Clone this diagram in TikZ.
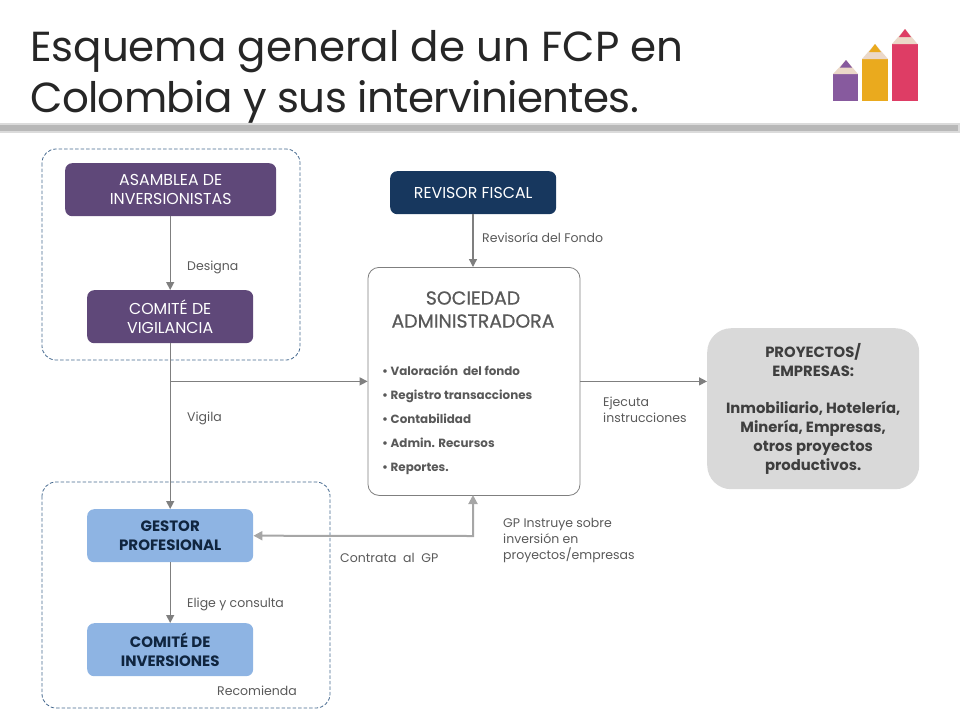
\documentclass[tikz,border=0pt]{standalone}
\usepackage{fontspec}
\setmainfont{Poppins}
\usetikzlibrary{arrows.meta,calc}
\definecolor{lbl}{HTML}{595959}
\definecolor{linec}{HTML}{7F7F7F}
\definecolor{purp}{HTML}{5F4879}
\definecolor{navy}{HTML}{17375E}
\definecolor{sky}{HTML}{8EB4E3}
\definecolor{skytx}{HTML}{10253F}
\definecolor{dashc}{HTML}{44688E}
\definecolor{greyb}{HTML}{D9D9D9}
\definecolor{pencilA}{HTML}{875A9E}
\definecolor{pencilB}{HTML}{EAAA1E}
\definecolor{pencilC}{HTML}{DE3D65}
\definecolor{pencilW}{HTML}{EBD8C8}
\tikzset{
  x=1pt,y=-1pt,
  box/.style={rectangle,rounded corners=7pt,align=center,inner sep=0pt,anchor=north west},
  purplebox/.style={box,fill=purp,text=white,font=\fontsize{15.8}{19}\selectfont},
  bluebox/.style={box,fill=sky,text=skytx,font=\fontsize{15}{19}\selectfont\bfseries},
  lab/.style={anchor=base west,align=left,inner sep=0pt,text=lbl,font=\fontsize{12.5}{16}\selectfont},
  conn/.style={draw=linec,line width=1.3pt,-{Triangle[length=8pt,width=8pt]}},
  conn2/.style={draw=black!35,line width=2pt,{Triangle[length=9pt,width=9pt]}-{Triangle[length=9pt,width=9pt]}},
  dashbox/.style={draw=dashc,dash pattern=on 3.5pt off 2pt,line width=.8pt,rounded corners=14pt},
  bul/.style={anchor=base west,inner sep=0pt,text=lbl,font=\fontsize{11.9}{13}\selectfont\bfseries},
  ttl/.style={anchor=base west,inner sep=0pt,text=black!85,font=\fontsize{42}{52}\selectfont},
}
\begin{document}
\begin{tikzpicture}
\useasboundingbox (0,0) rectangle (960,720);
\node[ttl] (t1) at (30,61) {Esquema general de un FCP en};
\node[ttl] (t2) at (30,112) {\addfontfeature{LetterSpace=-1.5}Colombia y sus intervinientes.};
\fill[black!14] (0,123) rectangle (960,133);
\fill[black!28] (0,124.5) rectangle (958,131);
% icon
\fill[pencilA] (833,74) rectangle (858,101);
\fill[pencilW] (833,74) -- (846,60) -- (858,74) -- cycle;
\fill[pencilA] (840,67.5) -- (846,60) -- (852,67.5) -- cycle;
\fill[pencilB] (862,59) rectangle (888,101);
\fill[pencilW] (862,59) -- (875,44) -- (888,59) -- cycle;
\fill[pencilB] (869,52) -- (875,44) -- (881,52) -- cycle;
\fill[pencilC] (892,44) rectangle (917.5,101);
\fill[pencilW] (892,44) -- (905,29) -- (917.5,44) -- cycle;
\fill[pencilC] (899,37) -- (905,29) -- (911,37) -- cycle;
% dashed
\draw[dashbox] (42,149) rectangle (300,360);
\draw[dashbox] (42,482) rectangle (330,708);
% nodes
\node[purplebox,minimum width=211pt,minimum height=53pt] (asamblea) at (65,163) {ASAMBLEA DE\\INVERSIONISTAS};
\node[purplebox,minimum width=166pt,minimum height=53pt] (vigilancia) at (87,290) {COMITÉ DE\\VIGILANCIA};
\node[box,fill=navy,text=white,font=\fontsize{15.8}{18}\selectfont,minimum width=166pt,minimum height=43pt] (revisor) at (390,171) {REVISOR FISCAL};
\node[box,draw=linec,line width=.8pt,fill=white,rounded corners=11pt,minimum width=212pt,minimum height=228pt] (sociedad) at (367.6,267) {};
\node[box,fill=greyb,rounded corners=24pt,minimum width=212pt,minimum height=161pt,text=lbl!70!black,font=\fontsize{14.8}{19}\selectfont\bfseries] (proyectos) at (707,328) {PROYECTOS/\\EMPRESAS:\\[18pt]Inmobiliario, Hotelería,\\Minería, Empresas,\\otros proyectos\\productivos.};
\node[bluebox,minimum width=166pt,minimum height=53pt] (gestor) at (87,509) {GESTOR\\PROFESIONAL};
\node[bluebox,minimum width=166pt,minimum height=53pt] (inversiones) at (87,623) {COMITÉ DE\\INVERSIONES};
% sociedad text
\node[align=center,inner sep=0pt,text=lbl,font=\fontsize{18.9}{23}\selectfont\addfontfeature{FakeBold=0.6}] (soctitle) at (473,309.5) {SOCIEDAD\\ADMINISTRADORA};
\node[bul] (b1) at (382,375) {• Valoración\ \ del fondo};
\node[bul] (b2) at (382,399) {• Registro transacciones};
\node[bul] (b3) at (382,423) {• Contabilidad};
\node[bul] (b4) at (382,447) {• Admin. Recursos};
\node[bul] (b5) at (382,471) {• Reportes.};
% connectors
\draw[conn] (asamblea.south -| vigilancia.north) -- (vigilancia.north);
\draw[conn] (vigilancia.south) -- (gestor.north);
\coordinate (branch) at (vigilancia.south |- sociedad.west);
\coordinate (soca) at (473,495);
\coordinate (socin) at (473,267);
\coordinate (elbow) at (473,536);
\draw[conn] (branch) -- (sociedad.west);
\draw[conn] (revisor.south -| socin) -- (socin);
\draw[conn] (sociedad.east) -- (proyectos.west |- sociedad.east);
\draw[conn] (gestor.south) -- (inversiones.north);
\draw[conn2] (gestor.east) -- (elbow) -- (soca);
% labels
\node[lab] (l1) at (187,270) {Designa};
\node[lab] (l2) at (482,242) {Revisoría del Fondo};
\node[lab] (l3) at (187,421) {Vigila};
\node[lab,anchor=north west] (l4) at (603,396.5) {Ejecuta\\instrucciones};
\node[lab,anchor=north west] (l5) at (503,518) {GP Instruye sobre\\inversión en\\proyectos/empresas};
\node[lab] (l6) at (340,562) {Contrata\ \ al\ \ GP};
\node[lab] (l7) at (187,607) {Elige y consulta};
\node[lab] (l8) at (217,695) {Recomienda};
\end{tikzpicture}
\end{document}
